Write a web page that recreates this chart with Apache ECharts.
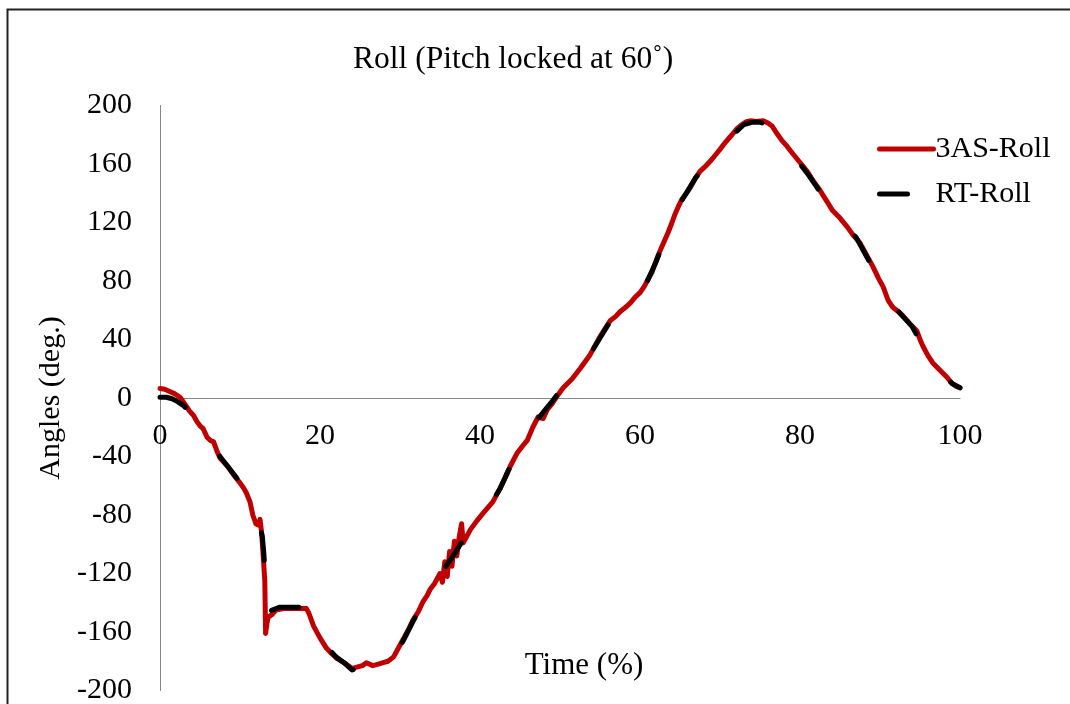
<!DOCTYPE html>
<html>
<head>
<meta charset="utf-8">
<script src="https://cdn.jsdelivr.net/npm/echarts@6/dist/echarts.min.js"></script>
<style>html,body{margin:0;padding:0;background:#fff;}#chart{width:1070px;height:704px;}</style>
</head>
<body>
<div id="chart"></div>
<script>
// ---- data ----
const xTicks = [0, 20, 40, 60, 80, 100];
const yTicks = [-200, -160, -120, -80, -40, 0, 40, 80, 120, 160, 200];

const time3AS = [0,0.6,1.2,1.8,2.5,3.1,3.7,4.2,4.6,5.0,5.4,5.9,6.3,6.7,7.1,7.5,8.0,8.5,9.0,9.4,10.0,10.5,10.8,11.25,11.6,12.0,12.3,12.5,12.7,12.9,13.1,13.2,13.35,13.5,14.0,14.5,15.4,16.5,17.5,18.3,18.6,19.2,20.0,20.8,21.5,22.1,23.3,24.0,24.6,25.3,25.8,26.6,27.3,27.9,28.5,29.2,29.6,30.4,31.0,31.6,32.3,32.9,33.4,33.75,34.3,35.0,35.3,35.6,35.9,36.2,36.5,36.8,37.1,37.4,37.7,37.9,38.3,38.8,39.6,40.5,41.6,42.5,43.2,43.75,44.6,45.3,45.9,46.6,47.25,47.9,48.4,49.0,49.6,50.4,51.5,52.5,53.7,54.4,55.0,55.7,56.3,57.0,57.5,58.2,58.8,59.4,60.0,60.5,61.0,61.5,61.9,62.3,62.7,63.1,63.5,64.0,64.4,64.8,65.25,65.8,66.3,66.9,67.5,68.1,68.8,69.4,70.0,70.7,71.5,72.1,72.75,73.3,73.75,74.5,75.4,76.0,76.5,77.1,77.75,78.4,79.1,80.0,80.9,81.7,82.5,83.3,84.1,85.0,85.9,86.7,87.5,88.3,89.1,89.8,90.4,91.0,91.6,92.3,92.9,93.7,94.6,95.0,95.4,96.0,96.6,97.5,98.4,99.0,99.5,100.0];
const roll3AS = [6.5,6,4.5,3,0.5,-4,-9,-12,-16,-19,-21,-27,-29,-30,-36,-41,-44,-47,-51,-54,-58,-62,-65,-71,-80,-86,-87,-83,-92,-108,-125,-161,-155,-150,-148,-145,-144,-144,-144,-144,-147,-156,-164,-171,-175,-178,-182,-185,-184,-183,-181,-183,-182,-181,-180,-177,-173,-165,-159,-152,-146,-139,-135,-131,-127,-120,-126,-112,-122,-105,-115,-98,-108,-95,-86,-99,-95,-90,-84,-78,-71,-62,-54,-47,-38,-33,-29,-20,-13,-14,-8,-4,1,7,13,20,29,36,42,48,53,56,59,62,65,69,72,76,81,86,92,98,103,108,113,120,126,131,136,140,144,150,155,158,162,166,170,175,180,184,187,189,189.5,189,189.5,188,186,181,176,172,167,161,155,148,142,135,128,123,117,111,106,98,90,82,76,67,62,59,56,51,46,40,35,29,24,19,14,10,8,7];

const timeRT = [0,0.8,1.5,2.2,2.9,3.6,4.5,5.5,6.5,7.5,8.5,9.5,10.5,11.3,12.0,12.5,12.8,13.0,13.2,13.4,14.0,15.0,16.5,18.3,19.2,20.0,21.0,22.0,23.0,24.0,25.0,26.5,27.9,28.6,29.5,30.4,31.6,32.9,33.75,35.0,36.0,37.0,38.0,39.0,40.0,41.0,41.6,42.5,43.5,44.6,45.6,46.5,47.3,48.3,49.2,50.0,51.0,52.0,53.0,54.0,55.0,56.0,57.0,58.0,59.0,60.0,61.0,62.0,63.0,64.0,65.0,66.0,67.0,68.0,69.0,70.0,71.0,72.0,73.0,74.0,75.0,76.0,77.0,78.0,79.0,80.0,81.0,82.0,83.0,84.0,85.0,86.0,87.0,88.0,89.0,90.0,91.0,92.0,93.0,94.0,95.0,96.0,97.0,98.0,99.0,100.0];
const rollRT = [0.5,0.5,-0.5,-2.5,-5,-9,-15,-23,-31,-40,-47,-54,-62,-70,-80,-88,-95,-108,-125,-148,-145,-143,-143,-143,-155,-163,-171,-177,-181,-186,-184,-183,-182,-180,-175,-166,-153,-140,-132,-121,-113,-105,-96,-88,-81,-74,-70,-62,-50,-39,-30,-20,-14,-7,-1,5,10,17,24,32,41,50,55,60,65,71,81,93,107,120,133,142,151,157,163,169,176,182,187,188.5,188.5,187,181,174,167,160,153,145,137,129,122,116,110,100,90,79,68,61,55,49,39,28,21,15,10,7];

const zip = (xs, ys) => xs.map((x, i) => [x, ys[i]]);

const FONT = '"Liberation Serif", "Times New Roman", serif';
const AXIS_GRAY = '#868686';
const GRID_TOP = 105.5, GRID_BOTTOM_PX = 690.5;
// the x axis sits on y = 0 (middle of the symmetric y range)
const X_AXIS_OFFSET = -(GRID_BOTTOM_PX - GRID_TOP) / 2;

const chart = echarts.init(document.getElementById('chart'), null, {renderer: 'canvas'});
chart.setOption({
  animation: false,
  backgroundColor: '#ffffff',
  textStyle: {fontFamily: FONT, color: '#000'},
  title: {
    text: 'Roll (Pitch locked at 60˚)',
    left: 348, top: 39,
    textStyle: {fontFamily: FONT, fontSize: 31.5, fontWeight: 'normal', color: '#000'}
  },
  legend: {
    orient: 'vertical',
    left: 877, top: 134, padding: 0,
    itemWidth: 54, itemHeight: 6, itemGap: 15,
    lineStyle: {width: 'inherit', type: 'inherit', cap: 'round'},
    itemStyle: {opacity: 0},
    textStyle: {fontFamily: FONT, fontSize: 30, color: '#000', padding: [0,0,0,-3]},
    data: ['3AS-Roll', 'RT-Roll']
  },
  grid: {left: 160, top: GRID_TOP, right: 110, bottom: 704 - GRID_BOTTOM_PX, containLabel: false, outerBoundsMode: 'none'},
  xAxis: {
    type: 'value', min: xTicks[0], max: xTicks[xTicks.length - 1], interval: xTicks[1] - xTicks[0],
    position: 'bottom', offset: X_AXIS_OFFSET,
    name: 'Time (%)', nameLocation: 'middle', nameGap: 252,
    nameTextStyle: {fontFamily: FONT, fontSize: 31, color: '#000', padding: [0, 0, 0, 48]},
    axisLine: {onZero: false, lineStyle: {color: AXIS_GRAY, width: 1}},
    axisTick: {show: false},
    splitLine: {show: false},
    axisLabel: {fontFamily: FONT, fontSize: 30, color: '#000', margin: 23}
  },
  yAxis: {
    type: 'value', min: yTicks[0], max: yTicks[yTicks.length - 1], interval: yTicks[1] - yTicks[0],
    name: 'Angles (deg.)', nameLocation: 'middle', nameGap: 88, nameRotate: 90,
    nameTextStyle: {fontFamily: FONT, fontSize: 30, color: '#000'},
    axisLine: {show: true, lineStyle: {color: AXIS_GRAY, width: 1}},
    axisTick: {show: false},
    splitLine: {show: false},
    axisLabel: {fontFamily: FONT, fontSize: 30, color: '#000', margin: 28}
  },
  graphic: [{
    type: 'rect', silent: true, z: -10,
    shape: {x: 7.5, y: 9.5, width: 1100, height: 750},
    style: {fill: 'none', stroke: '#222', lineWidth: 2}
  }],
  series: [
    {
      name: '3AS-Roll', type: 'line', data: zip(time3AS, roll3AS),
      showSymbol: false, symbol: 'none', sampling: null, z: 2,
      lineStyle: {color: '#C00000', width: 5, cap: 'round', join: 'round'},
      itemStyle: {color: '#C00000'}
    },
    {
      name: 'RT-Roll', type: 'line', data: zip(timeRT, rollRT),
      showSymbol: false, symbol: 'none', sampling: null, z: 3,
      lineStyle: {color: '#000000', width: 5, type: [28, 60], cap: 'round', join: 'round'},
      itemStyle: {color: '#000000'}
    }
  ]
});
</script>
</body>
</html>
